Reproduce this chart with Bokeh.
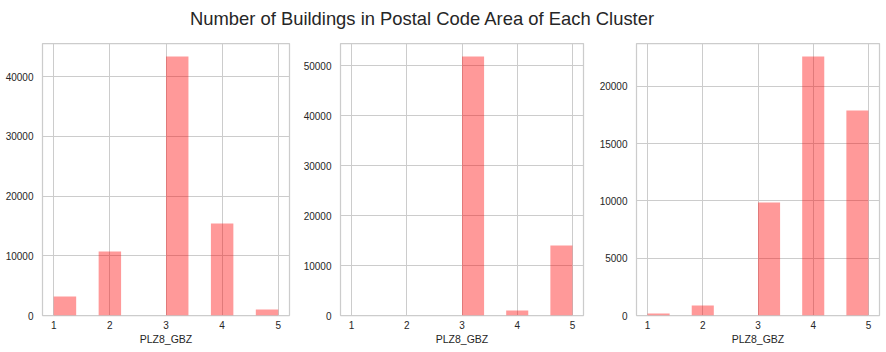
import numpy as np
from bokeh.plotting import figure
from bokeh.layouts import column, row
from bokeh.models import Range1d, FixedTicker, NumeralTickFormatter, ColumnDataSource
from bokeh.core.properties import value
from bokeh.embed import file_html
from bokeh.resources import INLINE

# ---- data ----
title_text = "Number of Buildings in Postal Code Area of Each Cluster"
x_label = "PLZ8_GBZ"
plz8_values = [1, 2, 3, 4, 5]
cluster_a_counts = [3180, 10720, 43400, 15420, 1000]
cluster_b_counts = [0, 0, 51870, 1000, 14020]
cluster_c_counts = [180, 870, 9870, 22620, 17900]
x_ticks = [1, 2, 3, 4, 5]
y_ticks_a = [0, 10000, 20000, 30000, 40000]
y_ticks_b = [0, 10000, 20000, 30000, 40000, 50000]
y_ticks_c = [0, 5000, 10000, 15000, 20000]

FONT = "Liberation Sans"
TXT = "#262626"
GRID = "#cccccc"

n_bins = 10
lo, hi = min(plz8_values), max(plz8_values)
edges = np.linspace(lo, hi, n_bins + 1)


def hist_source(vals, counts):
    width = (hi - lo) / n_bins
    idx = [min(int(np.floor((v - lo) / width + 1e-9)), n_bins - 1) for v in vals]
    return ColumnDataSource(dict(
        left=[edges[i] for i in idx],
        right=[edges[i + 1] for i in idx],
        top=counts,
        bottom=[0] * len(counts),
    ))


def make_panel(counts, yticks, w, bl, br):
    p = figure(width=w, height=310,
               min_border_left=bl, min_border_right=br,
               min_border_top=1, min_border_bottom=37,
               x_range=Range1d(lo - 0.05 * (hi - lo), hi + 0.05 * (hi - lo)),
               y_range=Range1d(0, max(counts) * 1.05),
               toolbar_location=None, output_backend="svg")
    p.quad(left="left", right="right", top="top", bottom="bottom",
           source=hist_source(plz8_values, counts),
           fill_color="red", fill_alpha=0.4, line_color=None)
    p.xaxis.ticker = FixedTicker(ticks=x_ticks)
    p.yaxis.ticker = FixedTicker(ticks=yticks)
    p.yaxis.formatter = NumeralTickFormatter(format="0")
    for ax in (p.xaxis, p.yaxis):
        ax.axis_line_color = None
        ax.major_tick_line_color = None
        ax.minor_tick_line_color = None
        ax.major_tick_out = 0
        ax.major_tick_in = 0
        ax.minor_tick_out = 0
        ax.minor_tick_in = 0
        ax.major_label_text_font = FONT
        ax.major_label_text_font_size = "10px"
        ax.major_label_text_color = TXT
    p.xaxis.major_label_standoff = 5
    p.yaxis.major_label_standoff = 9
    p.xaxis.axis_label = x_label
    p.xaxis.axis_label_text_font = FONT
    p.xaxis.axis_label_text_font_size = "10.5px"
    p.xaxis.axis_label_text_font_style = "normal"
    p.xaxis.axis_label_text_color = TXT
    p.xaxis.axis_label_standoff = 1
    p.grid.grid_line_color = GRID
    p.grid.grid_line_width = 1
    p.outline_line_color = GRID
    p.outline_line_width = 1.25
    p.background_fill_color = "white"
    p.border_fill_color = "white"
    return p


p1 = make_panel(cluster_a_counts, y_ticks_a, 300, 42, 11)
p2 = make_panel(cluster_b_counts, y_ticks_b, 296, 37, 13)
p3 = make_panel(cluster_c_counts, y_ticks_c, 290, 37, 7)

t = figure(width=886, height=42, x_range=Range1d(0, 886), y_range=Range1d(0, 42),
           x_axis_location=None, y_axis_location=None,
           toolbar_location=None, output_backend="svg", min_border=0)
t.grid.visible = False
t.outline_line_color = None
t.text(x=[422], y=[24], text=[title_text], text_align="center",
       text_baseline="alphabetic", text_font=value(FONT),
       text_font_size="18.4px", text_color=TXT)

layout = column(t, row(p1, p2, p3, spacing=0), spacing=0)
open("out.html", "w").write(file_html(layout, INLINE))
